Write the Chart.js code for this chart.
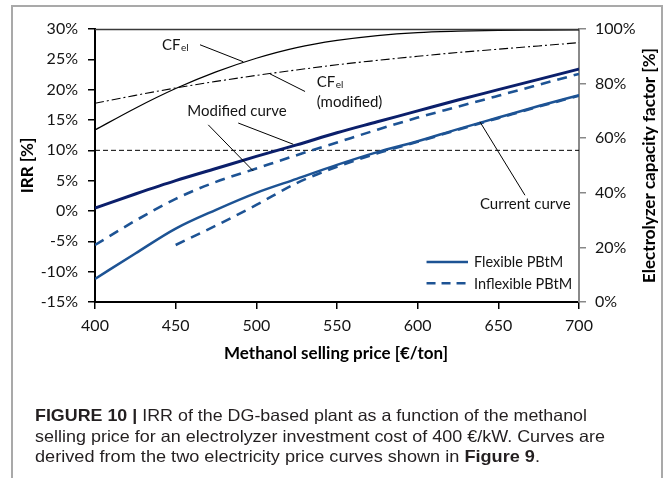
<!DOCTYPE html>
<html>
<head>
<meta charset="utf-8">
<script src="https://cdn.jsdelivr.net/npm/chart.js@4.4.1/dist/chart.umd.min.js"></script>
<style>
  html, body { margin: 0; padding: 0; background: #fff; width: 666px; height: 478px; overflow: hidden; }
  #wrap { position: relative; width: 666px; height: 478px; }
  #frame { position: absolute; left: 11px; top: 5px; width: 648px; height: 480px;
           border: 2px solid #a9a9a9; border-bottom: none; }
  #c { position: absolute; left: 0; top: 0; }
  .cap { position: absolute; left: 35px; font-family: "Liberation Sans", Arial, sans-serif;
         font-size: 16.5px; line-height: 20.5px; color: #231f20; white-space: nowrap;
         transform-origin: 0 0; }
  .cap b { font-weight: bold; }
</style>
</head>
<body>
<div id="wrap">
  <div id="frame"></div>
  <canvas id="c" width="666" height="478"></canvas>
  <div class="cap" id="cap1" style="top:405px" data-w="552"><b>FIGURE 10 |</b> IRR of the DG-based plant as a function of the methanol</div>
  <div class="cap" id="cap2" style="top:425.5px" data-w="570">selling price for an electrolyzer investment cost of 400 €/kW. Curves are</div>
  <div class="cap" id="cap3" style="top:446px" data-w="505">derived from the two electricity price curves shown in <b>Figure 9</b>.</div>
</div>
<script>
// Methanol selling price [€/ton]
const prices = [400, 425, 450, 475, 500, 525, 550, 575, 600, 625, 650, 675, 700];

// IRR [%] – modified electricity price curve
const irrModifiedFlexible   = [0.5, 2.8, 5.0, 7.0, 9.0, 10.9, 12.9, 14.7, 16.5, 18.3, 20.0, 21.7, 23.4];
const irrModifiedInflexible = [-5.6, -1.6, 2.0, 4.8, 7.0, 9.2, 11.3, 13.4, 15.4, 17.2, 19.0, 20.8, 22.6];

// IRR [%] – current electricity price curve
const irrCurrentFlexible   = [-11.2, -7.0, -2.9, 0.2, 3.0, 5.3, 7.6, 9.7, 11.5, 13.5, 15.4, 17.3, 19.1];
const irrCurrentInflexible = [null, null, -5.6, -2.4, 1.0, 4.6, 7.3, 9.5, 11.4, 13.4, 15.3, 17.2, 19.0];

// Electrolyzer capacity factor [%]
const cfEl         = [63.0, 71.0, 78.2, 84.3, 89.3, 93.2, 95.8, 97.6, 98.7, 99.2, 99.5, 99.6, 99.7];
const cfElModified = [72.8, 75.7, 78.4, 80.8, 83.0, 85.0, 86.9, 88.5, 90.0, 91.4, 92.6, 93.8, 95.0];

// Reference IRR level [%]
const irrReference = [10, 10];
const referencePrices = [400, 700];

// Axis ranges and tick steps
const xRange = [400, 700], xStep = 50;
const irrRange = [-15, 30], irrStep = 5;
const cfRange = [0, 100], cfStep = 20;

// Legend entries
const legendLabels = ['Flexible PBtM', 'Inflexible PBtM'];

const pts = (xs, ys) => xs.map((x, i) => ({ x, y: ys[i] })).filter(p => p.y !== null);

const NAVY = '#0b1f6b';
const BLUE = '#1d5394';
const INK = '#141414';

// Label placement for the callouts, in axis units (price, IRR %)
const callouts = {
  cfText: [441.5, 26.5],
  cfLead: [[465.1, 27.4], [491.9, 24.6]],
  cfModText: [537.4, 20.4],
  cfModText2: [537.4, 17.2],
  cfModLead: [[530.2, 19.7], [508.5, 22.6]],
  modText: [457.2, 15.7],
  modLeads: [[[470.2, 14.2], [498.1, 6.6]], [[488.8, 14.5], [522.9, 11.0]]],
  curText: [638.6, 0.3],
  curLead: [[638.6, 14.7], [666.5, 2.6]],
  legendLine: [605.5, 631.2],
  legendRows: [-8.4, -11.9],
  legendText: 634.9
};

Chart.defaults.font.family = 'Lato, "Noto Sans", sans-serif';
Chart.defaults.color = INK;

const overlay = {
  id: 'overlay',
  afterDraw(chart) {
    const { ctx, chartArea: a, scales } = chart;
    const X = v => scales.x.getPixelForValue(v);
    const Y = v => scales.y.getPixelForValue(v);
    ctx.save();

    // top frame of the plot area
    ctx.strokeStyle = '#3a3a3a';
    ctx.lineWidth = 1.5;
    ctx.beginPath();
    ctx.moveTo(a.left, a.top + 0.5);
    ctx.lineTo(a.right, a.top + 0.5);
    ctx.stroke();

    // callout leader lines
    ctx.strokeStyle = '#000';
    ctx.lineWidth = 1;
    const seg = s => {
      ctx.beginPath();
      ctx.moveTo(X(s[0][0]), Y(s[0][1]));
      ctx.lineTo(X(s[1][0]), Y(s[1][1]));
      ctx.stroke();
    };
    seg(callouts.cfLead);
    seg(callouts.cfModLead);
    callouts.modLeads.forEach(seg);
    seg(callouts.curLead);

    // callout texts
    ctx.fillStyle = INK;
    ctx.textBaseline = 'alphabetic';
    ctx.textAlign = 'left';
    const cfLabel = (px, py) => {
      ctx.font = '15px Lato';
      ctx.fillText('CF', px, py);
      const w = ctx.measureText('CF').width;
      ctx.font = '10px Lato';
      ctx.fillText('el', px + w + 0.5, py + 1);
    };
    cfLabel(X(callouts.cfText[0]), Y(callouts.cfText[1]));
    cfLabel(X(callouts.cfModText[0]), Y(callouts.cfModText[1]));
    ctx.font = '15px Lato';
    ctx.fillText('(modified)', X(callouts.cfModText2[0]), Y(callouts.cfModText2[1]));
    ctx.fillText('Modified curve', X(callouts.modText[0]), Y(callouts.modText[1]));
    ctx.fillText('Current curve', X(callouts.curText[0]), Y(callouts.curText[1]));

    // legend
    const [lx0, lx1] = callouts.legendLine.map(X);
    legendLabels.forEach((label, i) => {
      const ly = Y(callouts.legendRows[i]);
      ctx.strokeStyle = BLUE;
      ctx.lineWidth = 2.5;
      ctx.setLineDash(i === 0 ? [] : [9, 6]);
      ctx.beginPath();
      ctx.moveTo(lx0, ly);
      ctx.lineTo(lx1, ly);
      ctx.stroke();
      ctx.setLineDash([]);
      ctx.font = '14.5px Lato';
      ctx.fillStyle = INK;
      ctx.fillText(label, X(callouts.legendText), ly + 5.5);
    });

    // axis titles
    ctx.font = 'bold 17px Lato';
    ctx.fillStyle = '#000';
    ctx.textAlign = 'center';
    ctx.fillText('Methanol selling price [€/ton]', (a.left + a.right) / 2 - 1, a.bottom + 56.5);

    ctx.save();
    ctx.translate(a.left - 62, (a.top + a.bottom) / 2);
    ctx.rotate(-Math.PI / 2);
    ctx.fillText('IRR [%]', 0, 0);
    ctx.restore();

    ctx.save();
    ctx.translate(a.right + 76, (a.top + a.bottom) / 2);
    ctx.rotate(-Math.PI / 2);
    ctx.fillText('Electrolyzer capacity factor [%]', 0, 0);
    ctx.restore();

    ctx.restore();
  }
};

const tickFont = { family: 'Lato', size: 16 };

new Chart(document.getElementById('c'), {
  type: 'line',
  data: {
    datasets: [
      { label: 'Modified – flexible', data: pts(prices, irrModifiedFlexible), yAxisID: 'y',
        borderColor: NAVY, borderWidth: 3, cubicInterpolationMode: 'monotone' },
      { label: 'Modified – inflexible', data: pts(prices, irrModifiedInflexible), yAxisID: 'y',
        borderColor: BLUE, borderWidth: 2.6, borderDash: [10, 7], cubicInterpolationMode: 'monotone' },
      { label: 'Current – inflexible', data: pts(prices, irrCurrentInflexible), yAxisID: 'y',
        borderColor: BLUE, borderWidth: 2.6, borderDash: [10, 7], cubicInterpolationMode: 'monotone' },
      { label: 'Current – flexible', data: pts(prices, irrCurrentFlexible), yAxisID: 'y',
        borderColor: BLUE, borderWidth: 2.5, cubicInterpolationMode: 'monotone' },
      { label: 'CF el', data: pts(prices, cfEl), yAxisID: 'y2',
        borderColor: '#000', borderWidth: 1.2, cubicInterpolationMode: 'monotone' },
      { label: 'CF el (modified)', data: pts(prices, cfElModified), yAxisID: 'y2',
        borderColor: '#000', borderWidth: 1.1, borderDash: [9, 3, 2, 3], cubicInterpolationMode: 'monotone' },
      { label: 'IRR 10%', data: pts(referencePrices, irrReference), yAxisID: 'y',
        borderColor: '#000', borderWidth: 1, borderDash: [5, 3] }
    ]
  },
  options: {
    responsive: false,
    animation: false,
    devicePixelRatio: 1,
    layout: { padding: { top: 29, left: 0, right: 0, bottom: 0 } },
    elements: { point: { radius: 0 }, line: { fill: false } },
    plugins: { legend: { display: false }, tooltip: { enabled: false } },
    scales: {
      x: {
        type: 'linear', min: xRange[0], max: xRange[1],
        ticks: { stepSize: xStep, font: tickFont, color: INK, padding: 7, maxRotation: 0 },
        grid: { display: true, drawOnChartArea: false, drawTicks: true, tickLength: 7, color: '#000', lineWidth: 1.5 },
        border: { display: true, color: '#000', width: 2 },
        afterFit(s) { s.height = 176; }
      },
      y: {
        position: 'left', min: irrRange[0], max: irrRange[1],
        ticks: { stepSize: irrStep, font: tickFont, color: INK, padding: 10, callback: v => v + '%' },
        grid: { display: true, drawOnChartArea: false, drawTicks: true, tickLength: 7, color: '#000', lineWidth: 1.5 },
        border: { display: true, color: '#000', width: 2 },
        afterFit(s) { s.width = 95; }
      },
      y2: {
        position: 'right', min: cfRange[0], max: cfRange[1],
        ticks: { stepSize: cfStep, font: tickFont, color: INK, padding: 9, callback: v => v + '%' },
        grid: { display: true, drawOnChartArea: false, drawTicks: true, tickLength: 7, color: '#888', lineWidth: 1.5 },
        border: { display: true, color: '#8a8a8a', width: 2 },
        afterFit(s) { s.width = 87; }
      }
    }
  },
  plugins: [overlay]
});

// fit each caption line to its column width
document.querySelectorAll('.cap').forEach(el => {
  const target = parseFloat(el.dataset.w);
  const w = el.getBoundingClientRect().width;
  el.style.transform = 'scaleX(' + (target / w).toFixed(4) + ')';
});
</script>
</body>
</html>
